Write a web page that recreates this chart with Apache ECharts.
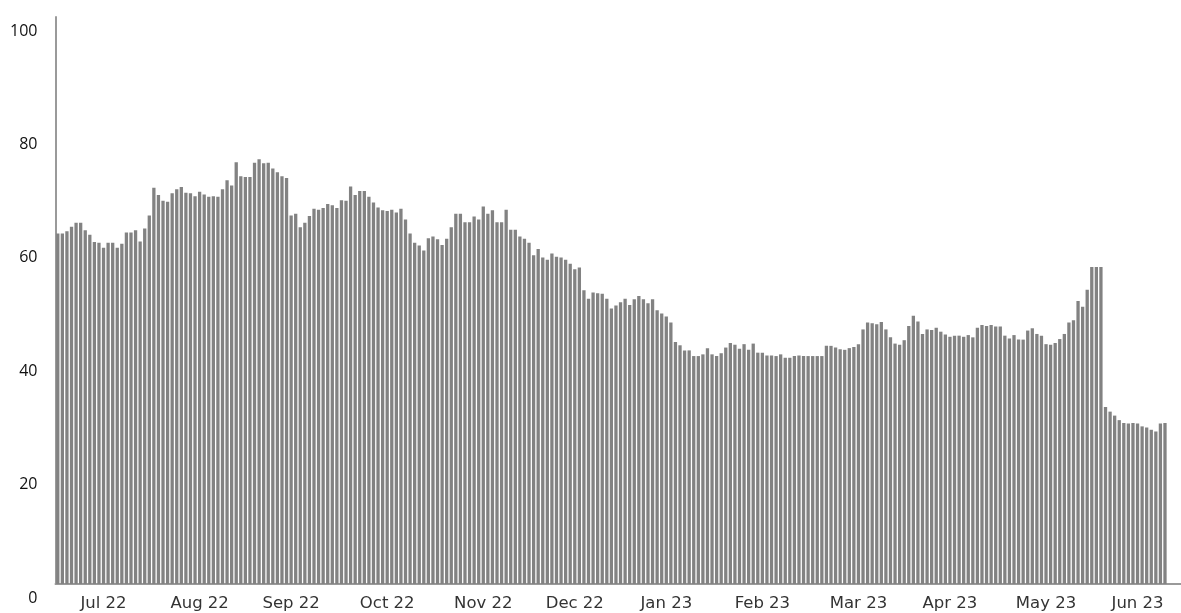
<!DOCTYPE html>
<html>
<head>
<meta charset="utf-8">
<script src="https://cdn.jsdelivr.net/npm/echarts@6.0.0/dist/echarts.min.js"></script>
<style>
  html, body { margin: 0; padding: 0; background: #ffffff; }
  #chart { width: 1181px; height: 613px; }
</style>
</head>
<body>
<div id="chart"></div>
<script>
// daily values
var values = [
  61.8, 61.8, 62.2, 63.0, 63.7, 63.7, 62.4, 61.6, 60.3, 60.2,
  59.3, 60.2, 60.2, 59.3, 60.0, 62.0, 62.0, 62.4, 60.4, 62.7,
  65.0, 69.9, 68.6, 67.6, 67.4, 68.9, 69.6, 70.0, 69.0, 68.9,
  68.4, 69.2, 68.7, 68.3, 68.4, 68.3, 69.6, 71.2, 70.3, 74.4,
  71.9, 71.8, 71.8, 74.3, 74.9, 74.2, 74.3, 73.3, 72.6, 71.9,
  71.6, 65.0, 65.3, 62.9, 63.7, 64.9, 66.2, 66.0, 66.3, 67.0,
  66.8, 66.3, 67.7, 67.6, 70.1, 68.6, 69.3, 69.3, 68.3, 67.3,
  66.4, 65.9, 65.8, 66.0, 65.5, 66.2, 64.3, 61.8, 60.2, 59.7,
  58.8, 61.0, 61.3, 60.8, 59.8, 60.9, 62.9, 65.3, 65.3, 63.8,
  63.8, 64.8, 64.3, 66.6, 65.3, 65.9, 63.8, 63.8, 66.0, 62.5,
  62.5, 61.3, 60.9, 60.2, 58.0, 59.1, 57.6, 57.2, 58.3, 57.7,
  57.6, 57.2, 56.5, 55.5, 55.8, 51.8, 50.3, 51.4, 51.3, 51.2,
  50.3, 48.6, 49.1, 49.7, 50.3, 49.2, 50.2, 50.8, 50.2, 49.5,
  50.2, 48.3, 47.7, 47.2, 46.1, 42.7, 42.1, 41.2, 41.2, 40.2,
  40.2, 40.5, 41.6, 40.5, 40.2, 40.7, 41.7, 42.5, 42.2, 41.5,
  42.3, 41.3, 42.4, 40.8, 40.8, 40.3, 40.3, 40.2, 40.5, 39.9,
  39.9, 40.2, 40.3, 40.2, 40.2, 40.2, 40.2, 40.2, 42.0, 42.0,
  41.7, 41.4, 41.3, 41.6, 41.8, 42.3, 44.9, 46.1, 46.0, 45.8,
  46.2, 44.9, 43.5, 42.4, 42.2, 43.0, 45.5, 47.3, 46.3, 44.1,
  44.9, 44.8, 45.2, 44.5, 44.0, 43.6, 43.8, 43.8, 43.6, 43.9,
  43.5, 45.2, 45.7, 45.5, 45.7, 45.4, 45.4, 43.8, 43.3, 43.9,
  43.1, 43.1, 44.7, 45.1, 44.1, 43.8, 42.3, 42.2, 42.5, 43.2,
  44.1, 46.1, 46.5, 49.9, 48.9, 51.9, 55.9, 55.9, 55.9, 31.2,
  30.4, 29.7, 28.9, 28.4, 28.3, 28.4, 28.3, 27.8, 27.6, 27.2,
  26.9, 28.3, 28.4
];

// month labels and the bar they sit under
var monthLabels = ['Jul 22', 'Aug 22', 'Sep 22', 'Oct 22', 'Nov 22', 'Dec 22',
                   'Jan 23', 'Feb 23', 'Mar 23', 'Apr 23', 'May 23', 'Jun 23'];
var monthIndex = [10, 31, 51, 72, 93, 113, 133, 154, 175, 195, 216, 236];

var yTicks = [0, 20, 40, 60, 80, 100];

var categories = values.map(function (v, i) { return String(i); });

var chart = echarts.init(document.getElementById('chart'));
chart.setOption({
  animation: false,
  backgroundColor: '#ffffff',
  grid: {
    left: 55.5,
    right: -3,
    top: 17,
    bottom: 29
  },
  xAxis: {
    type: 'category',
    data: categories,
    max: 245,
    boundaryGap: true,
    axisLine: { show: true, lineStyle: { color: '#9a9a9a', width: 2 } },
    axisTick: { show: false },
    splitLine: { show: false },
    axisLabel: {
      interval: function (index) { return monthIndex.indexOf(index) >= 0; },
      formatter: function (value) {
        var k = monthIndex.indexOf(Number(value));
        return k >= 0 ? monthLabels[k] : '';
      },
      margin: 11,
      color: '#333333',
      fontFamily: 'DejaVu Sans',
      fontSize: 16.5
    }
  },
  yAxis: {
    type: 'value',
    min: yTicks[0],
    max: yTicks[yTicks.length - 1],
    interval: 20,
    axisLine: { show: true, lineStyle: { color: '#9a9a9a', width: 2 } },
    axisTick: { show: false },
    splitLine: { show: false },
    axisLabel: {
      margin: 18,
      color: '#111111',
      fontFamily: 'Open Sans',
      fontSize: 16,
      verticalAlign: 'top',
      lineHeight: 16,
      padding: [6, 0, 0, 0]
    }
  },
  series: [{
    type: 'bar',
    data: values,
    barCategoryGap: '28%',
    itemStyle: { color: '#828282' }
  }]
});
</script>
</body>
</html>
